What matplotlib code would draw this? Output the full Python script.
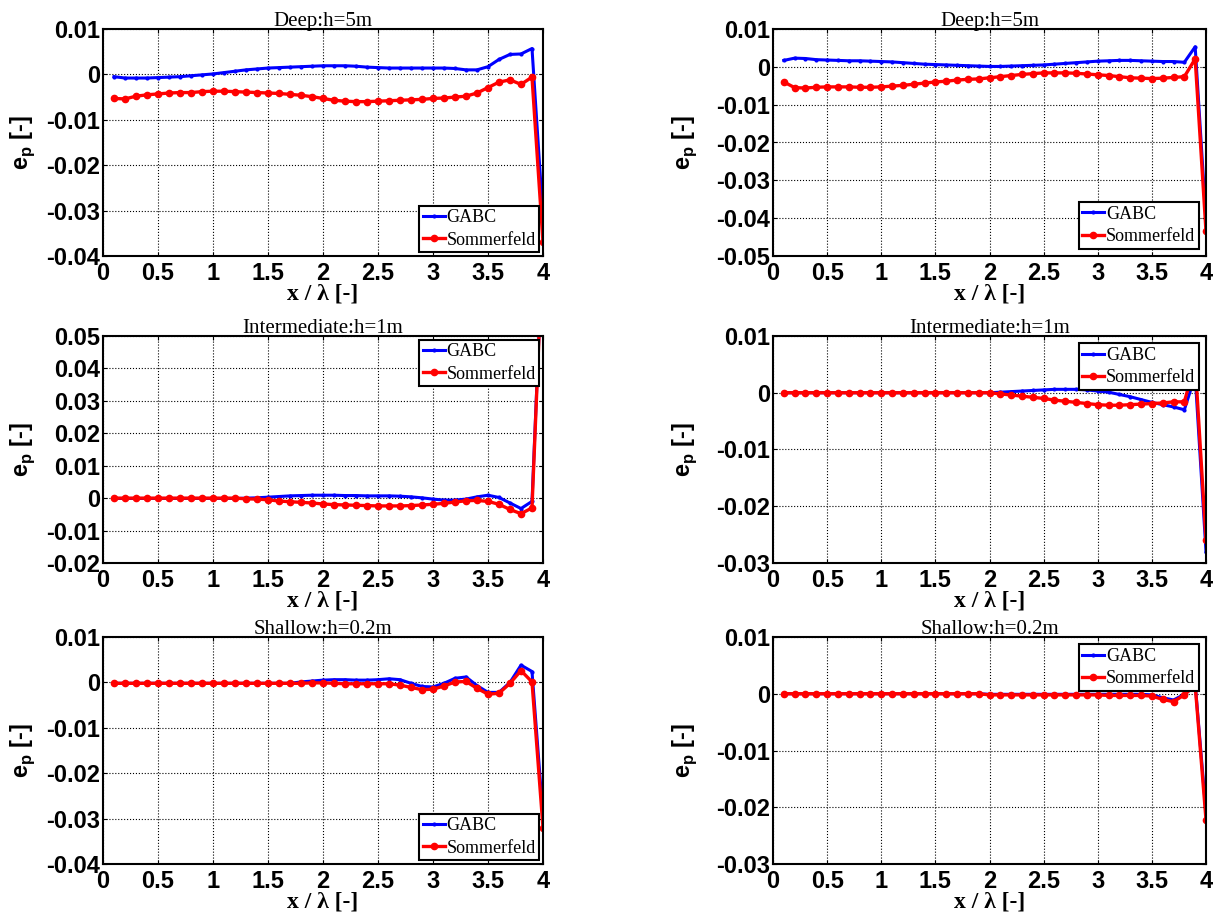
import matplotlib
matplotlib.use("Agg")
import matplotlib.pyplot as plt
import numpy as np

plt.rcParams["axes.unicode_minus"] = False
plt.rcParams["mathtext.fontset"] = "custom"
plt.rcParams["mathtext.bf"] = "Liberation Sans:bold"
plt.rcParams["mathtext.rm"] = "Liberation Sans:bold"

# x / lambda positions (0.1 .. 4.0)
x = [round(0.1 * i, 1) for i in range(1, 41)]

# Deep h=5m, left panel
deep_l_gabc = [-0.0005, -0.0008, -0.0008, -0.0008, -0.0007, -0.0006, -0.0005, -0.0003, -0.0001, 0.0001,
               0.0004, 0.0007, 0.0010, 0.0012, 0.0014, 0.0015, 0.0016, 0.0017, 0.0018, 0.0019,
               0.0019, 0.0019, 0.0018, 0.0016, 0.0015, 0.0014, 0.0014, 0.0014, 0.0014, 0.0014,
               0.0014, 0.0013, 0.0010, 0.0010, 0.0017, 0.0033, 0.0044, 0.0045, 0.0057, -0.0315]
deep_l_somm = [-0.0053, -0.0054, -0.0048, -0.0045, -0.0043, -0.0041, -0.0040, -0.0040, -0.0038, -0.0037,
               -0.0037, -0.0038, -0.0039, -0.0040, -0.0041, -0.0042, -0.0044, -0.0046, -0.0049, -0.0053,
               -0.0057, -0.0059, -0.0060, -0.0060, -0.0059, -0.0058, -0.0057, -0.0056, -0.0055, -0.0053,
               -0.0052, -0.0050, -0.0048, -0.0041, -0.0029, -0.0017, -0.0012, -0.0022, -0.0006, -0.0370]

# Deep h=5m, right panel
deep_r_gabc = [0.0017, 0.0023, 0.0022, 0.0019, 0.0018, 0.0017, 0.0016, 0.0016, 0.0015, 0.0014,
               0.0013, 0.0011, 0.0009, 0.0007, 0.0006, 0.0005, 0.0004, 0.0003, 0.0002, 0.0001,
               0.0001, 0.0002, 0.0003, 0.0004, 0.0005, 0.0007, 0.0009, 0.0011, 0.0013, 0.0015,
               0.0016, 0.0017, 0.0017, 0.0016, 0.0015, 0.0014, 0.0014, 0.0012, 0.0053, -0.0405]
deep_r_somm = [-0.0040, -0.0055, -0.0056, -0.0054, -0.0053, -0.0053, -0.0053, -0.0054, -0.0054, -0.0053,
               -0.0051, -0.0049, -0.0046, -0.0043, -0.0040, -0.0038, -0.0035, -0.0033, -0.0032, -0.0029,
               -0.0026, -0.0023, -0.0020, -0.0018, -0.0016, -0.0016, -0.0016, -0.0017, -0.0019, -0.0021,
               -0.0023, -0.0026, -0.0029, -0.0030, -0.0031, -0.0030, -0.0028, -0.0026, 0.0021, -0.0435]

# Intermediate h=1m, left panel
inter_l_gabc = [-0.0001, -0.0001, -0.0001, -0.0001, -0.0001, -0.0001, -0.0001, -0.0001, -0.0001, -0.0001,
                -0.0001, -0.0001, 0.0000, 0.0001, 0.0003, 0.0005, 0.0007, 0.0008, 0.0009, 0.0009,
                0.0009, 0.0008, 0.0008, 0.0007, 0.0007, 0.0007, 0.0006, 0.0004, 0.0001, -0.0003,
                -0.0006, -0.0006, -0.0003, 0.0004, 0.0009, 0.0002, -0.0015, -0.0032, -0.0010, 0.0800]
inter_l_somm = [0.0000, 0.0000, 0.0000, 0.0000, 0.0000, 0.0000, 0.0000, 0.0000, 0.0000, 0.0000,
                0.0000, 0.0000, -0.0002, -0.0003, -0.0005, -0.0009, -0.0011, -0.0013, -0.0015, -0.0018,
                -0.0020, -0.0021, -0.0022, -0.0023, -0.0024, -0.0024, -0.0024, -0.0023, -0.0021, -0.0019,
                -0.0016, -0.0012, -0.0008, -0.0007, -0.0010, -0.0019, -0.0035, -0.0048, -0.0030, 0.0800]

# Intermediate h=1m, right panel
inter_r_gabc = [0.0] * 20 + [0.0001, 0.0002, 0.0003, 0.0004, 0.0005, 0.0006, 0.0006, 0.0006, 0.0005, 0.0003,
                             0.0001, -0.0003, -0.0007, -0.0012, -0.0017, -0.0021, -0.0025, -0.0030, 0.0030, -0.0280]
inter_r_somm = [0.0] * 20 + [-0.0002, -0.0004, -0.0006, -0.0008, -0.0010, -0.0013, -0.0015, -0.0017, -0.0019, -0.0021,
                             -0.0022, -0.0022, -0.0021, -0.0020, -0.0019, -0.0018, -0.0016, -0.0016, 0.0052, -0.0260]

# Shallow h=0.2m, left panel
shal_l_gabc = [-0.0002] * 17 + [0.0001, 0.0003, 0.0005, 0.0006, 0.0006, 0.0005, 0.0005, 0.0006, 0.0008, 0.0006,
                                -0.0002, -0.0009, -0.0010, -0.0002, 0.0009, 0.0012, -0.0007, -0.0022, -0.0022, 0.0000,
                                0.0038, 0.0024, -0.0295]
shal_l_somm = [-0.0002] * 18 + [-0.0001, -0.0001, -0.0002, -0.0003, -0.0003, -0.0003, -0.0003, -0.0003, -0.0006,
                                -0.0011, -0.0016, -0.0015, -0.0008, 0.0001, 0.0002, -0.0013, -0.0026, -0.0024, -0.0002,
                                0.0026, 0.0001, -0.0320]

# Shallow h=0.2m, right panel
shal_r_gabc = [0.0] * 19 + [-0.0001] * 15 + [-0.0002, -0.0007, -0.0011, -0.0001, 0.0018, -0.0210]
shal_r_somm = [0.0] * 19 + [-0.0002] * 11 + [-0.0003, -0.0003, -0.0003, -0.0003, -0.0004, -0.0010, -0.0014,
                                             -0.0002, 0.0015, -0.0222]

titles = ["Deep:h=5m", "Deep:h=5m", "Intermediate:h=1m", "Intermediate:h=1m",
          "Shallow:h=0.2m", "Shallow:h=0.2m"]
series = [(deep_l_gabc, deep_l_somm), (deep_r_gabc, deep_r_somm),
          (inter_l_gabc, inter_l_somm), (inter_r_gabc, inter_r_somm),
          (shal_l_gabc, shal_l_somm), (shal_r_gabc, shal_r_somm)]
ylims = [(-0.04, 0.01), (-0.05, 0.01), (-0.02, 0.05), (-0.03, 0.01), (-0.04, 0.01), (-0.03, 0.01)]
legend_locs = ["lower right", "lower right", "upper right", "upper right", "lower right", "upper right"]

W, H = 1222, 917
fig = plt.figure(figsize=(W / 100, H / 100), dpi=100)

cols = [(103, 440), (773, 433)]
row_bottoms = [256, 563, 864]
ax_h = 227


def fmt(v, pos=None):
    if abs(v) < 1e-12:
        return "0"
    return "%g" % round(v, 4)


for i in range(6):
    r, c = divmod(i, 2)
    left, w = cols[c]
    ax = fig.add_axes([left / W, 1 - row_bottoms[r] / H, w / W, ax_h / H])
    g, s = series[i]
    ax.plot(x, g, color="blue", lw=2.2, marker=".", ms=4, label="GABC")
    ax.plot(x, s, color="red", lw=2.4, marker=".", ms=9, label="Sommerfeld")
    ax.set_xlim(0, 4)
    ax.set_ylim(*ylims[i])
    ax.set_xticks(np.arange(0, 4.01, 0.5))
    lo, hi = ylims[i]
    ax.set_yticks(np.arange(lo, hi + 1e-9, 0.01))
    ax.xaxis.set_major_formatter(plt.FuncFormatter(fmt))
    ax.yaxis.set_major_formatter(plt.FuncFormatter(fmt))
    ax.grid(True, color="black", linestyle=":", linewidth=0.8)
    ax.tick_params(direction="in", length=3, top=True, right=True, width=0.8)
    ax.tick_params(axis="y", pad=2)
    ax.tick_params(axis="x", pad=4)
    for lab in ax.get_xticklabels() + ax.get_yticklabels():
        lab.set_fontfamily("Liberation Sans")
        lab.set_fontweight("bold")
        lab.set_fontsize(17)
    for sp in ax.spines.values():
        sp.set_linewidth(1.5)
    ax.set_title(titles[i], fontfamily="Liberation Serif", fontsize=15, pad=2)
    ax.set_xlabel(r"x / λ [-]", fontfamily="Liberation Serif", fontweight="bold", fontsize=17)
    ax.xaxis.set_label_coords(0.5, -0.12)
    ax.set_ylabel(r"e$_\mathbf{p}$ [-]", fontfamily="Liberation Sans", fontweight="bold", fontsize=17)
    ax.yaxis.set_label_coords(-0.15 if c == 0 else -0.17, 0.5)
    leg = ax.legend(loc=legend_locs[i], fancybox=False, edgecolor="black", framealpha=1,
                    prop={"family": "Liberation Serif", "size": 13},
                    handlelength=1.2, handletextpad=0.1, borderpad=0.2, labelspacing=0.3,
                    borderaxespad=0.2 if c == 0 else 0.4)
    leg.get_frame().set_linewidth(1.5)

fig.savefig("out.png", dpi=100)
